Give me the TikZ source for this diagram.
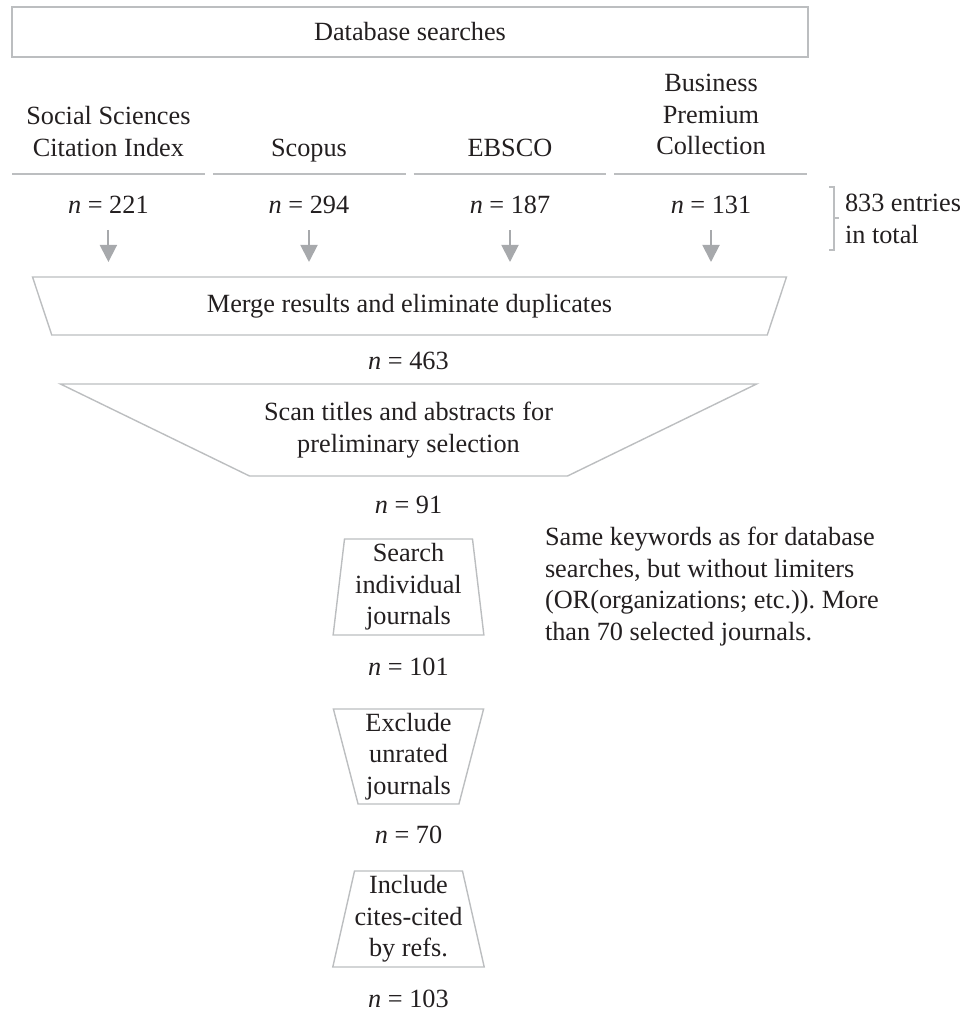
\documentclass[tikz,border=0pt]{standalone}
\usepackage{fontspec}
\setmainfont{Liberation Serif}
\usepackage{tikz}
\usetikzlibrary{
  arrows.meta,
  shapes.geometric
}
\definecolor{textgray}{HTML}{231F20}
\definecolor{linegray}{HTML}{BCBEC0}
\definecolor{arrowgray}{HTML}{A7A9AC}
\newcommand{\pu}{0.392pt}

\begin{document}
\begin{tikzpicture}[x=\pu, y=-\pu,
    every node/.style = {font=\fontsize{10.3}{12.4}\selectfont, text=textgray, inner sep=0pt, outer sep=0pt},
    rbox/.style = {rectangle, draw=linegray, line width=0.55pt},
    trap/.style = {trapezium, draw=linegray, line width=0.55pt, trapezium stretches=true, align=center},
    nval/.style = {anchor=base},
    sepline/.style = {draw=linegray, line width=0.6pt},
    flow/.style = {draw=arrowgray, line width=0.75pt, -{Triangle[length=6.7pt, width=6.7pt]}, shorten <=6.66pt, shorten >=5.88pt}]
  \useasboundingbox (0,0) rectangle (967,1011);
  % nodes
  \node[rbox, minimum width=796*\pu, minimum height=50*\pu] (dbsearch) at (410,32) {Database searches};

  \node[anchor=north, align=center] (ssci) at (108.4,106.2) {Social Sciences\\Citation Index};
  \node[nval] (scopus) at (309,156) {Scopus};
  \node[nval] (ebsco) at (510,156) {EBSCO};
  \node[anchor=north, align=center] (bpc) at (711,74.2) {Business\\Premium\\Collection};
  \foreach \a/\b in {12/204.75, 212.75/405.5, 413.5/606.25, 614.25/807}
    \draw[sepline] (\a,174) -- (\b,174);

  \node[nval] (n221) at (108.4,213) {\textit{n} = 221};
  \node[nval] (n294) at (309,213) {\textit{n} = 294};
  \node[nval] (n187) at (510,213) {\textit{n} = 187};
  \node[nval] (n131) at (711,213) {\textit{n} = 131};
  \node[anchor=north west, align=left] (total) at (845,194.2) {833 entries\\in total};
  \draw[draw=linegray, line width=0.55pt] (829,187) -| (834,250) -- (829,250);
  \draw[draw=linegray, line width=0.55pt] (834,218) -- (839,218);

  \node[trap, trapezium angle=114.5, minimum width=755*\pu, minimum height=58*\pu] (merge) at (409.5,306) {Merge results and eliminate duplicates};
  \node[nval] (n463) at (408.5,369) {\textit{n} = 463};
  \node[trap, trapezium angle=162, minimum width=697*\pu, minimum height=92*\pu] (scan) at (408.5,430) {Scan titles and abstracts for\\preliminary selection};
  \node[nval] (n91) at (408.5,513) {\textit{n} = 91};
  \node[trap, trapezium angle=83.8, minimum width=151*\pu, minimum height=96*\pu] (search) at (408.5,587) {Search\\individual\\journals};
  \node[nval] (n101) at (408.5,675) {\textit{n} = 101};
  \node[trap, trapezium angle=103.6, minimum width=151*\pu, minimum height=95*\pu] (exclude) at (408.5,756.5) {Exclude\\unrated\\journals};
  \node[nval] (n70) at (408.5,843) {\textit{n} = 70};
  \node[trap, trapezium angle=76, minimum width=151*\pu, minimum height=96*\pu] (include) at (408.5,919) {Include\\cites-cited\\by refs.};
  \node[nval] (n103) at (408.5,1007) {\textit{n} = 103};

  \node[anchor=north west, align=left] (note) at (545,527.2) {Same keywords as for database\\searches, but without limiters\\(OR(organizations; etc.)).\ More\\than 70 selected journals.};

  % connections
  \foreach \s in {n221,n294,n187,n131}
    \draw[flow] (\s.south) -- (\s.south |- merge.north);
\end{tikzpicture}
\end{document}
